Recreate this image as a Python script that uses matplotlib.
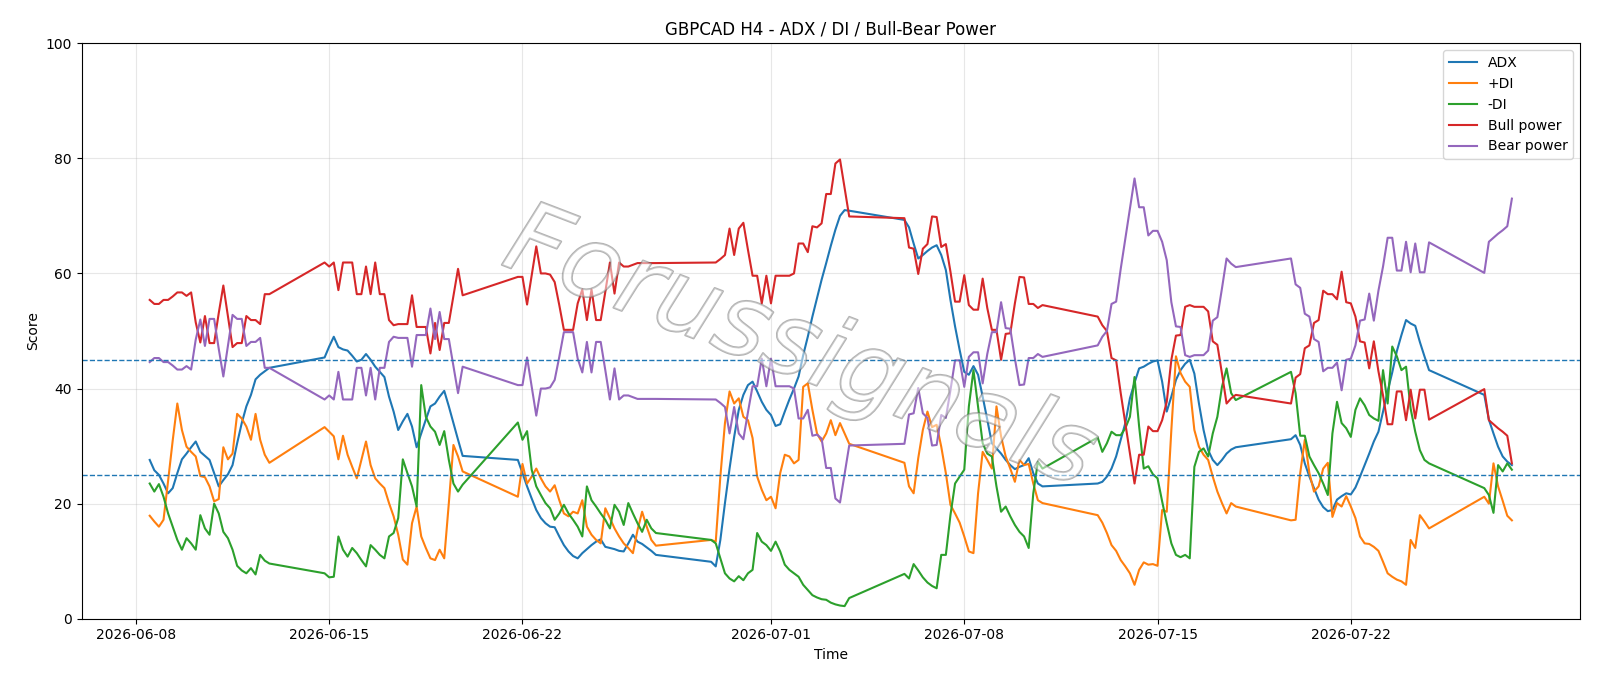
import matplotlib
matplotlib.use("Agg")
import matplotlib.pyplot as plt
import matplotlib.patheffects as pe
import numpy as np
import pandas as pd

# H4 bars, FX session (Sun 20:00 -> Fri 20:00), 2026-06-08 12:00 .. 2026-07-27 20:00
START, END = "2026-06-08 12:00", "2026-07-27 20:00"

# one line per trading week
adx = [
    27.6, 25.8, 25.0, 23.5, 21.8, 22.7, 25.3, 27.7, 28.7, 29.8, 30.8, 29.0, 28.3, 27.6, 25.3, 23.0, 24.1, 25.1, 26.7, 30.5, 34.0, 36.9, 38.9, 41.6, 42.4, 43.0, 43.6,
    45.4, 47.3, 49.0, 47.2, 46.8, 46.6, 45.7, 44.7, 45.0, 46.0, 45.0, 43.8, 42.9, 42.0, 38.6, 36.0, 32.8, 34.3, 35.6, 33.4, 29.8, 32.2, 34.6, 36.9, 37.4, 38.6, 39.6, 36.9, 34.0, 31.1, 28.3,
    27.6, 25.3, 23.0, 20.9, 18.9, 17.5, 16.6, 16.0, 15.9, 14.3, 12.8, 11.7, 10.9, 10.5, 11.4, 12.1, 12.8, 13.4, 13.8, 12.5, 12.3, 12.1, 11.8, 11.7, 13.1, 14.6, 13.4, 13.0, 12.4, 11.8, 11.1,
    9.9, 9.1, 13.7, 20.1, 26.1, 31.6, 36.3, 38.9, 40.6, 41.2, 39.5, 37.7, 36.3, 35.4, 33.5, 33.8, 36.0, 38.1, 40.0, 42.1, 45.8, 49.0, 52.5, 55.7, 58.9, 61.8, 64.8, 67.6, 70.0, 71.0, 70.9,
    69.3, 68.0, 65.2, 62.6, 63.2, 63.9, 64.5, 64.9, 63.2, 60.6, 55.4, 50.8, 46.7, 42.9, 42.4, 43.9, 42.4, 38.6, 34.6, 30.5, 29.6, 28.7, 27.6, 26.7, 26.0, 26.4, 26.7, 27.9, 25.3, 23.5, 23.0,
    23.5, 23.8, 24.7, 26.1, 28.2, 31.1, 34.0, 38.3, 41.0, 43.5, 43.8, 44.3, 44.7, 44.9, 41.2, 36.0, 38.6, 41.5, 43.2, 44.3, 45.0, 42.6, 37.4, 32.8, 29.3, 27.6, 26.7, 27.6, 28.7, 29.4, 29.8,
    31.2, 31.9, 30.2, 27.0, 24.7, 22.7, 20.7, 19.4, 18.7, 18.9, 20.7, 21.3, 21.8, 21.6, 22.8, 24.7, 26.7, 28.7, 30.8, 32.5, 36.0, 39.5, 42.8, 46.5, 49.3, 51.9, 51.3, 50.9, 48.1, 45.6, 43.2,
    38.9, 34.6, 32.2, 29.9, 28.2, 27.3, 26.7,
]
plus_di = [
    17.9, 16.9, 16.0, 17.2, 24.0, 31.0, 37.4, 32.8, 29.9, 29.0, 28.2, 24.8, 24.6, 23.0, 20.4, 20.8, 29.8, 27.7, 28.7, 35.6, 34.8, 33.4, 31.1, 35.6, 31.1, 28.5, 27.1,
    33.3, 32.5, 31.7, 27.7, 31.8, 28.5, 26.4, 24.4, 27.6, 30.8, 26.7, 24.4, 23.5, 22.7, 20.1, 17.8, 14.6, 10.3, 9.4, 16.6, 19.5, 14.3, 12.3, 10.5, 10.2, 12.0, 10.5, 20.1, 30.2, 28.2, 25.6,
    21.2, 26.9, 23.5, 24.7, 26.1, 24.4, 23.0, 22.1, 23.2, 20.6, 18.3, 17.8, 18.6, 18.3, 20.6, 16.0, 14.6, 13.7, 13.1, 19.2, 17.5, 15.7, 14.3, 13.1, 12.3, 11.4, 15.4, 18.6, 16.0, 13.7, 12.7,
    13.7, 13.4, 24.7, 34.0, 39.5, 37.4, 38.3, 35.1, 34.5, 31.4, 24.7, 22.4, 20.6, 21.2, 19.2, 25.3, 28.5, 28.2, 27.0, 27.6, 40.3, 40.9, 36.3, 32.2, 30.8, 32.2, 34.5, 31.9, 34.0, 32.2, 30.4,
    27.1, 23.0, 21.8, 27.9, 32.8, 36.0, 33.3, 33.7, 29.9, 25.3, 19.8, 18.3, 16.7, 14.3, 11.7, 11.4, 21.8, 29.0, 27.6, 26.1, 36.9, 31.7, 28.2, 26.1, 23.8, 27.6, 26.7, 26.9, 23.5, 20.6, 20.1,
    18.0, 16.7, 14.9, 12.8, 11.8, 10.2, 9.1, 7.9, 5.9, 8.5, 9.8, 9.4, 9.5, 9.2, 18.9, 18.6, 32.8, 45.6, 42.7, 41.2, 40.3, 32.8, 29.9, 28.5, 27.6, 24.7, 22.1, 20.1, 18.3, 20.1, 19.5,
    17.1, 17.2, 25.3, 31.1, 25.3, 22.1, 23.0, 26.1, 27.1, 17.7, 20.1, 19.5, 21.3, 19.5, 17.5, 14.3, 13.1, 13.0, 12.5, 11.8, 9.9, 7.9, 7.3, 6.8, 6.5, 5.9, 13.7, 12.3, 18.0, 16.9, 15.7,
    21.2, 20.0, 27.0, 23.0, 20.5, 17.9, 17.1,
]
minus_di = [
    23.5, 22.1, 23.4, 21.2, 18.3, 16.0, 13.7, 12.0, 14.0, 13.1, 12.0, 18.0, 15.7, 14.6, 20.0, 18.3, 15.1, 14.0, 12.0, 9.2, 8.4, 7.9, 8.8, 7.7, 11.1, 10.1, 9.6,
    7.9, 7.2, 7.3, 14.3, 12.0, 10.8, 12.3, 11.4, 10.2, 9.1, 12.8, 12.0, 11.1, 10.5, 14.3, 14.9, 17.5, 27.7, 25.3, 23.0, 19.5, 40.6, 35.1, 33.4, 32.5, 30.2, 32.6, 27.6, 23.5, 22.1, 23.3,
    34.1, 31.1, 32.6, 25.9, 23.0, 21.5, 20.1, 19.2, 17.2, 18.3, 19.8, 18.3, 17.2, 16.0, 14.3, 23.0, 20.6, 19.5, 18.3, 17.2, 15.7, 19.8, 18.6, 16.3, 20.1, 18.3, 16.6, 15.1, 17.2, 15.7, 14.9,
    13.7, 13.1, 10.5, 7.9, 7.0, 6.5, 7.4, 6.7, 7.9, 8.5, 14.9, 13.4, 12.8, 11.8, 13.4, 11.7, 9.4, 8.5, 7.9, 7.3, 5.9, 5.0, 4.1, 3.7, 3.4, 3.3, 2.8, 2.5, 2.3, 2.2, 3.6,
    7.8, 7.0, 9.5, 8.4, 7.2, 6.3, 5.7, 5.3, 11.1, 11.1, 18.0, 23.5, 24.7, 25.9, 36.9, 43.2, 36.9, 30.5, 28.7, 28.2, 23.0, 18.6, 19.5, 17.8, 16.3, 15.1, 14.3, 12.3, 21.8, 27.3, 26.1,
    31.5, 29.0, 30.5, 32.5, 31.9, 31.9, 33.1, 35.1, 42.0, 33.4, 26.1, 26.5, 25.1, 24.4, 20.4, 16.6, 13.1, 11.1, 10.7, 11.1, 10.5, 26.4, 29.0, 29.6, 28.2, 32.2, 35.1, 40.3, 43.5, 39.2, 38.0,
    42.9, 39.2, 31.8, 31.8, 28.2, 26.7, 25.3, 23.5, 21.5, 32.2, 37.7, 34.0, 33.1, 31.6, 36.3, 38.3, 37.1, 35.4, 34.8, 34.4, 43.2, 37.4, 47.3, 45.6, 43.2, 43.8, 36.5, 32.5, 29.3, 27.6, 27.0,
    22.7, 21.5, 18.4, 26.7, 25.6, 27.0, 25.9,
]
bull = [
    55.4, 54.7, 54.7, 55.4, 55.4, 56.0, 56.7, 56.7, 56.1, 56.7, 51.5, 48.0, 52.6, 47.9, 47.9, 53.1, 57.9, 52.5, 47.2, 47.9, 47.9, 52.6, 51.9, 51.9, 51.2, 56.4, 56.4,
    61.9, 61.2, 61.9, 57.1, 61.9, 61.9, 61.9, 56.4, 56.4, 61.2, 56.4, 61.9, 56.4, 56.4, 51.9, 51.0, 51.2, 51.2, 51.2, 56.2, 50.7, 50.7, 50.7, 46.1, 51.4, 46.7, 51.4, 51.4, 56.1, 60.8, 56.2,
    59.4, 59.4, 54.6, 59.6, 64.7, 60.0, 60.0, 59.8, 58.5, 54.5, 50.2, 50.2, 50.2, 54.8, 57.2, 51.9, 57.2, 51.9, 51.9, 56.8, 61.9, 56.5, 61.9, 61.2, 61.2, 61.5, 61.8, 61.8, 61.8, 61.8, 61.8,
    61.9, 61.9, 62.5, 63.2, 67.8, 63.2, 67.8, 68.8, 64.1, 59.6, 59.6, 54.8, 59.6, 54.8, 59.6, 59.6, 59.6, 59.6, 60.0, 65.2, 65.2, 63.7, 68.2, 68.0, 68.7, 73.8, 73.8, 79.1, 79.8, 74.8, 69.9,
    69.6, 64.5, 64.3, 59.9, 64.3, 65.1, 69.9, 69.8, 64.6, 65.1, 60.3, 55.1, 55.1, 59.7, 54.5, 53.7, 53.7, 59.1, 54.0, 50.2, 50.2, 45.0, 49.5, 49.6, 54.8, 59.4, 59.3, 54.7, 54.7, 54.0, 54.5,
    52.5, 51.0, 50.0, 45.3, 44.9, 39.2, 34.0, 28.8, 23.5, 28.5, 28.5, 33.4, 32.6, 32.6, 34.5, 37.7, 45.0, 49.2, 49.3, 54.2, 54.5, 54.2, 54.2, 54.2, 53.4, 48.2, 47.6, 42.6, 37.4, 38.3, 38.9,
    37.4, 41.9, 42.5, 47.0, 47.5, 51.4, 51.9, 57.0, 56.4, 56.4, 55.5, 60.3, 55.0, 54.8, 52.5, 48.2, 48.0, 43.5, 48.2, 43.0, 38.8, 33.8, 33.8, 39.5, 39.5, 34.5, 39.8, 34.8, 39.8, 39.8, 34.6,
    39.9, 34.5, 33.8, 33.1, 32.5, 31.8, 27.0,
]
bear = [
    44.6, 45.3, 45.3, 44.6, 44.6, 44.0, 43.3, 43.3, 43.9, 43.3, 48.5, 52.0, 47.4, 52.1, 52.1, 46.9, 42.1, 47.5, 52.8, 52.1, 52.1, 47.4, 48.1, 48.1, 48.8, 43.6, 43.6,
    38.1, 38.8, 38.1, 42.9, 38.1, 38.1, 38.1, 43.6, 43.6, 38.8, 43.6, 38.1, 43.6, 43.6, 48.1, 49.0, 48.8, 48.8, 48.8, 43.8, 49.3, 49.3, 49.3, 53.9, 48.6, 53.3, 48.6, 48.6, 43.9, 39.2, 43.8,
    40.6, 40.6, 45.4, 40.4, 35.3, 40.0, 40.0, 40.2, 41.5, 45.5, 49.8, 49.8, 49.8, 45.2, 42.8, 48.1, 42.8, 48.1, 48.1, 43.2, 38.1, 43.5, 38.1, 38.8, 38.8, 38.5, 38.2, 38.2, 38.2, 38.2, 38.2,
    38.1, 38.1, 37.5, 36.8, 32.2, 36.8, 32.2, 31.2, 35.9, 40.4, 40.4, 45.2, 40.4, 45.2, 40.4, 40.4, 40.4, 40.4, 40.0, 34.8, 34.8, 36.3, 31.8, 32.0, 31.3, 26.2, 26.2, 20.9, 20.2, 25.2, 30.1,
    30.4, 35.5, 35.7, 40.1, 35.7, 34.9, 30.1, 30.2, 35.4, 34.9, 39.7, 44.9, 44.9, 40.3, 45.5, 46.3, 46.3, 40.9, 46.0, 49.8, 49.8, 55.0, 50.5, 50.4, 45.2, 40.6, 40.7, 45.3, 45.3, 46.0, 45.5,
    47.5, 49.0, 50.0, 54.7, 55.1, 60.8, 66.0, 71.2, 76.5, 71.5, 71.5, 66.6, 67.4, 67.4, 65.5, 62.3, 55.0, 50.8, 50.7, 45.8, 45.5, 45.8, 45.8, 45.8, 46.6, 51.8, 52.4, 57.4, 62.6, 61.7, 61.1,
    62.6, 58.1, 57.5, 53.0, 52.5, 48.6, 48.1, 43.0, 43.6, 43.6, 44.5, 39.7, 45.0, 45.2, 47.5, 51.8, 52.0, 56.5, 51.8, 57.0, 61.2, 66.2, 66.2, 60.5, 60.5, 65.5, 60.2, 65.2, 60.2, 60.2, 65.4,
    60.1, 65.5, 66.2, 66.9, 67.5, 68.2, 73.0,
]


def h4_index(start, end):
    t = pd.date_range(start, end, freq="4h")
    wd, hr = t.dayofweek, t.hour
    # drop the weekend: Saturday and Sunday before the 20:00 open
    return t[(wd <= 4) | ((wd == 6) & (hr >= 20))]


def main():
    t = h4_index(START, END)
    assert len(t) == len(adx) == len(bull), (len(t), len(adx), len(bull))

    fig, ax = plt.subplots(figsize=(16, 6.86), dpi=100)
    ax.plot(t, adx, label="ADX")
    ax.plot(t, plus_di, label="+DI")
    ax.plot(t, minus_di, label="-DI")
    ax.plot(t, bull, label="Bull power")
    ax.plot(t, bear, label="Bear power")
    ax.axhline(45, ls="--", lw=1, color="C0")
    ax.axhline(25, ls="--", lw=1, color="C0")
    ax.set(ylim=(0, 100), xlabel="Time", ylabel="Score",
           title="GBPCAD H4 - ADX / DI / Bull-Bear Power")
    ax.grid(alpha=0.3)
    ax.legend(loc="upper right")
    fig.subplots_adjust(left=0.051, right=0.9875, top=0.937, bottom=0.098)

    # watermark
    fig.text(0.5, 0.49, "Forussignals", fontsize=72, rotation=-21, style="italic",
             ha="center", va="center", color=(1, 1, 1, 0.3),
             path_effects=[pe.withStroke(linewidth=1.4, foreground=(0.45, 0.45, 0.45, 0.55))])

    fig.savefig("out.png", dpi=100)
    plt.close(fig)


if __name__ == "__main__":
    main()
